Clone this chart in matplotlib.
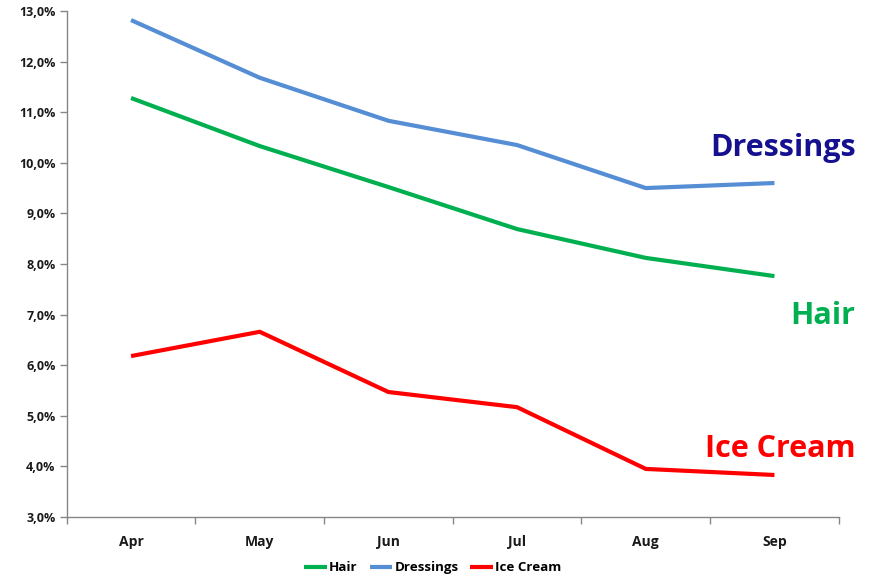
import matplotlib
matplotlib.use("Agg")
import matplotlib.pyplot as plt
from matplotlib.ticker import FuncFormatter, FixedLocator

months = ["Apr", "May", "Jun", "Jul", "Aug", "Sep"]
hair = [11.28, 10.33, 9.52, 8.69, 8.12, 7.76]
dressings = [12.82, 11.68, 10.83, 10.35, 9.50, 9.60]
ice_cream = [6.18, 6.66, 5.47, 5.17, 3.95, 3.83]

series_names = ["Hair", "Dressings", "Ice Cream"]
line_colors = ["#00B050", "#558ED5", "#FF0000"]
label_colors = ["#00B050", "#14108F", "#FF0000"]

plt.rcParams["font.family"] = ["Open Sans", "DejaVu Sans"]

fig = plt.figure(figsize=(8.71, 5.77), dpi=100)
ax = fig.add_axes([0.0766, 0.104, 0.8864, 0.877])

x = list(range(len(months)))
for name, vals, col in zip(series_names, [hair, dressings, ice_cream], line_colors):
    ax.plot(x, vals, color=col, lw=3.0, solid_capstyle="butt", label=name)

ax.set_xlim(-0.5, len(months) - 0.5)
ax.set_ylim(3.0, 13.0)
ax.set_yticks([3 + i for i in range(11)])
ax.yaxis.set_major_formatter(FuncFormatter(lambda v, p: f"{v:.1f}".replace(".", ",") + "%"))

# category labels centred, tick marks between categories
ax.set_xticks(x)
ax.set_xticklabels(months)
ax.xaxis.set_minor_locator(FixedLocator([i - 0.5 for i in range(len(months) + 1)]))
ax.tick_params(axis="x", which="major", length=0, pad=13)
ax.tick_params(axis="x", which="minor", length=5, color="#868686", width=1)
ax.tick_params(axis="y", length=5, color="#868686", width=1, pad=3)

for lab in ax.get_xticklabels():
    lab.set_fontweight("bold")
    lab.set_fontsize(10)
    lab.set_color("#1a1a1a")
for lab in ax.get_yticklabels():
    lab.set_fontweight("bold")
    lab.set_fontsize(9)
    lab.set_color("#1a1a1a")

for s in ["top", "right"]:
    ax.spines[s].set_visible(False)
for s in ["left", "bottom"]:
    ax.spines[s].set_color("#868686")
    ax.spines[s].set_linewidth(1)

# series name callouts
callouts = [("Dressings", 10.29), ("Hair", 6.98), ("Ice Cream", 4.34)]
for (txt, yv), col in zip(callouts, [label_colors[1], label_colors[0], label_colors[2]]):
    ax.text(5.63, yv, txt, ha="right", va="center", fontsize=22, fontweight="bold",
            color=col, clip_on=False)

leg = fig.legend(loc="lower center", bbox_to_anchor=(0.497, -0.016), ncol=3, frameon=False,
                 prop={"weight": "bold", "size": 9.6}, handlelength=1.7, handletextpad=0.15,
                 columnspacing=0.9)

fig.savefig("out.png", dpi=100)
